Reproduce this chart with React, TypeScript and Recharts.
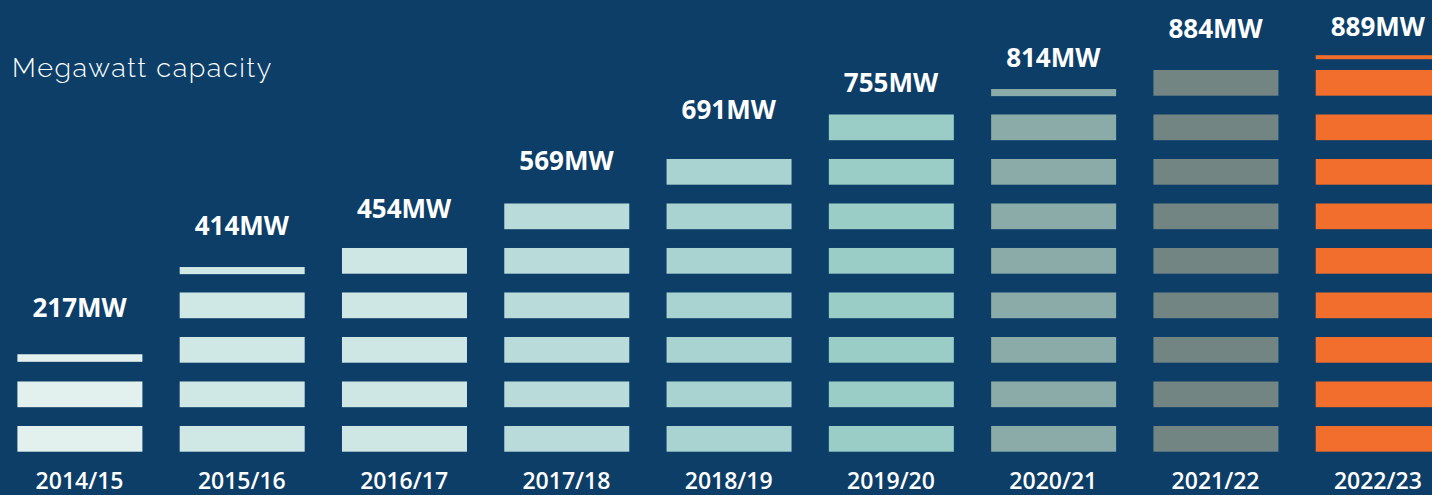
import { ComposedChart, Bar, Line, XAxis, YAxis, LabelList } from 'recharts'

const years = ['2014/15', '2015/16', '2016/17', '2017/18', '2018/19', '2019/20', '2020/21', '2021/22', '2022/23']
const capacityMW = [217, 414, 454, 569, 691, 755, 814, 884, 889]
// each bar is drawn as a stack of blocks, with a thin sliver on top for some years
const fullBlocks = [2, 4, 5, 6, 7, 8, 8, 9, 9]
const sliverLow: (number | null)[] = [2.02, 3.99, null, null, null, null, 7.99, null, 8.82]
const sliverHigh: (number | null)[] = [2.19, 4.15, null, null, null, null, 8.15, null, 8.91]
const blockColors = ['#e3f1ee', '#d0e8e5', '#cfe7e4', '#b9dcda', '#a9d3d1', '#99cdc6', '#8aaba8', '#738583', '#f26e2c']

const BG = '#0c3e68'
const BLOCK = 0.578 // block height as a share of one step

const data = years.map((year, i) => ({
  year,
  mw: capacityMW[i],
  blocks: fullBlocks[i],
  lo: sliverLow[i],
  hi: sliverHigh[i],
  color: blockColors[i],
  extent: sliverHigh[i] ?? fullBlocks[i] - 1 + BLOCK,
}))

// splits the bar the scale gives us into blocks
function BlockShape(props: any) {
  const { x, y, width, height, payload } = props
  const base = y + height
  const unit = height / payload.extent
  const rects = []
  for (let k = 0; k < payload.blocks; k++) {
    rects.push(
      <rect key={k} x={x} y={base - (k + BLOCK) * unit} width={width} height={BLOCK * unit} fill={payload.color} />
    )
  }
  if (payload.hi != null && payload.lo != null) {
    rects.push(
      <rect key="s" x={x} y={base - payload.hi * unit} width={width} height={(payload.hi - payload.lo) * unit} fill={payload.color} />
    )
  }
  return <g>{rects}</g>
}

export default function App() {
  return (
    <div style={{ position: 'relative', width: 1432, height: 495, overflow: 'hidden', background: BG }}>
      <style>{'body{margin:0}'}</style>
      <div
        style={{
          position: 'absolute',
          left: 12,
          top: 54,
          fontFamily: 'Raleway, Lato, sans-serif',
          fontWeight: 300,
          fontSize: 27,
          lineHeight: '27px',
          letterSpacing: 1.6,
          color: '#ffffff',
          whiteSpace: 'nowrap',
        }}
      >
        Megawatt capacity
      </div>
      <ComposedChart
        width={1459}
        height={495}
        data={data}
        margin={{ top: 6.7, right: 0, left: -1.6, bottom: 0 }}
        style={{ fontFamily: '"Open Sans", sans-serif' }}
      >
        <XAxis
          dataKey="year"
          axisLine={false}
          tickLine={false}
          height={43.3}
          interval={0}
          tickMargin={15}
          tick={{ fill: '#ffffff', fontSize: 23, fontWeight: 600 }}
        />
        <YAxis hide domain={[0, 10]} />
        {/* MW labels sit on their own MW scale */}
        <YAxis yAxisId="mw" hide domain={[-104, 958]} />
        <Bar dataKey="extent" barSize={125} shape={<BlockShape />} isAnimationActive={false} />
        <Line
          yAxisId="mw"
          dataKey="mw"
          stroke="none"
          dot={false}
          activeDot={false}
          isAnimationActive={false}
        >
          <LabelList
            dataKey="mw"
            position="top"
            offset={0}
            formatter={(v: any) => `${v}MW`}
            fill="#ffffff"
            fontSize={26}
            fontWeight={700}
          />
        </Line>
      </ComposedChart>
    </div>
  )
}
